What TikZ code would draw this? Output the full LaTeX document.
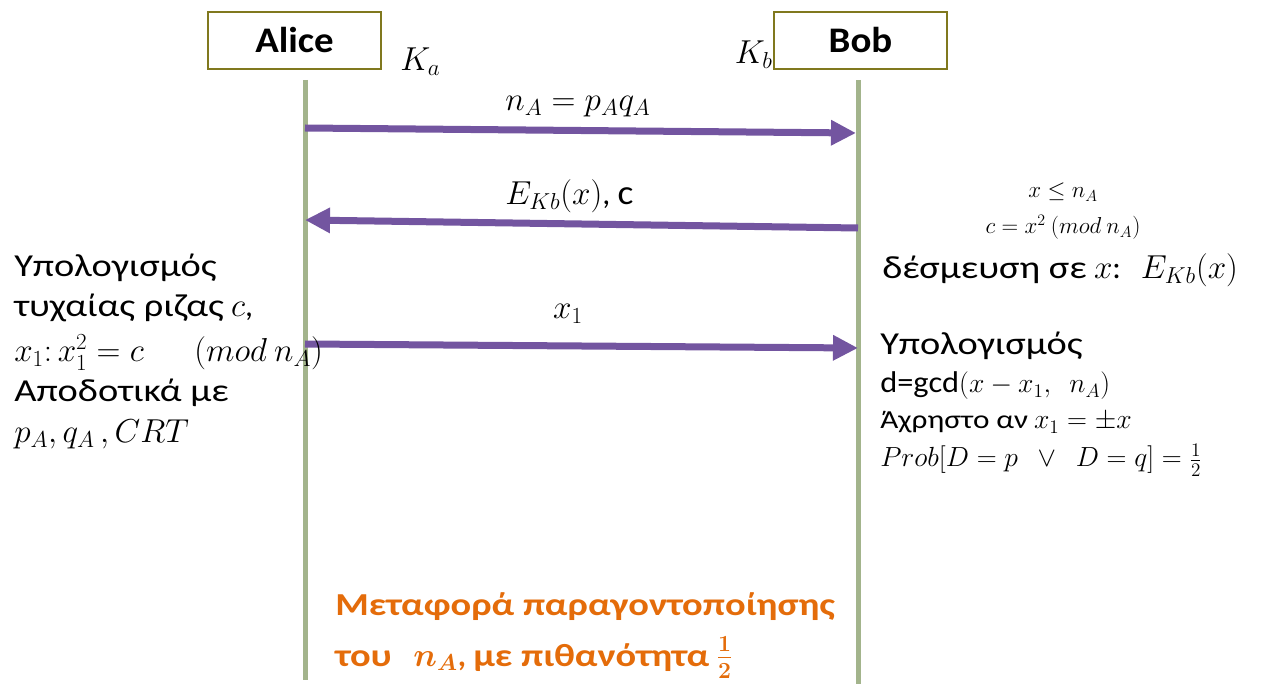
\documentclass[tikz,border=0pt]{standalone}
\usepackage{fontspec}
\usepackage{graphicx}
\setmainfont{Carlito}
\newcommand{\gs}[1]{\scalebox{1.2}[1]{#1}}
\newcommand{\ls}[1]{\scalebox{1.08}[1]{#1}}
\usetikzlibrary{arrows.meta}
\definecolor{boxline}{RGB}{128,120,30}
\definecolor{life}{RGB}{163,180,140}
\definecolor{msg}{RGB}{115,85,160}
\definecolor{note}{RGB}{228,108,10}
\tikzset{
  actor/.style={draw=boxline, line width=1.3pt, minimum width=129.75pt, minimum height=42.75pt, font=\fontsize{27}{30}\selectfont\bfseries, inner sep=0pt},
  lifeline/.style={draw=life, line width=3.75pt},
  message/.style={draw=msg, line width=5.25pt, -{Triangle[length=18.75pt,width=18pt]}},
  big/.style={font=\fontsize{24}{28}\selectfont, inner sep=0pt},
  mid/.style={font=\fontsize{19.5}{22}\selectfont, inner sep=0pt},
  small/.style={font=\fontsize{16.5}{20}\selectfont, inner sep=0pt},
  orange/.style={font=\fontsize{24}{28}\selectfont\bfseries\boldmath, text=note, inner sep=0pt},
}
\begin{document}
\begin{tikzpicture}[x=0.75pt,y=-0.75pt]
\useasboundingbox (0,0) rectangle (1265,684);
% actors
\node[actor] (alice) at (294.5,40.5) {\ls{Alice}};
\node[actor] (bob) at (860.5,40.5) {\ls{Bob}};
\node[big, anchor=base west] (ka) at (400,71) {$K_a$};
\node[big, anchor=base east] (kb) at (773,64) {$K_b$};
% lifelines
\coordinate (aTop) at (305,80);
\coordinate (aBot) at (305,680);
\coordinate (bTop) at (858,80);
\coordinate (bBot) at (858,684);
\draw[lifeline] (aTop) -- (aBot);
\draw[lifeline] (bTop) -- (bBot);
% message end points
\coordinate (m1s) at (305,128);
\coordinate (m1e) at (856,133);
\coordinate (m2s) at (858,228);
\coordinate (m2e) at (305,220);
\coordinate (m3s) at (305,344);
\coordinate (m3e) at (858,348);
\draw[message] (m1s) -- (m1e);
\draw[message] (m2s) -- (m2e);
\draw[message] (m3s) -- (m3e);
% message labels
\node[big, anchor=base] (l1) at (578,111) {$n_A = p_A q_A$};
\node[big, anchor=base west] (l2) at (505,205) {$E_{Kb}(x)$, {\fontsize{26}{28}\selectfont\ls{c}}};
\node[big, anchor=base] (l3) at (568,319) {$x_1$};
% Bob notes 1
\node[small, anchor=base] (b1) at (1063,198) {$x \le n_A$};
\node[small, anchor=base] (b2) at (1063,234) {$c = x^2\ (mod\ n_A)$};
\node[big, anchor=base west] (b3) at (882,279) {\gs{δέσμευση σε} $x$:\ \ \,$E_{Kb}(x)$};
% Bob notes 2
\node[big, anchor=base west] (b4) at (880,355) {\gs{Υπολογισμός}};
\node[mid, anchor=base west, font=\fontsize{22.5}{24}\selectfont] (b5) at (880,393) {\ls{d=gcd}$(x - x_1,\ \ n_A)$};
\node[mid, anchor=base west] (b6) at (880,429) {\gs{Άχρηστο αν} $x_1 = \pm x$};
\node[mid, anchor=base west, font=\fontsize{22.5}{24}\selectfont] (b7) at (880,467) {$Prob[D = p\ \ \vee\ \ D = q] = \frac{1}{2}$};
% Alice notes
\node[big, anchor=base west] (a1) at (14,277) {\gs{Υπολογισμός}};
\node[big, anchor=base west] (a2) at (14,317) {\gs{τυχαίας ριζας} $c$,};
\node[big, anchor=base west] (a3) at (14,362) {$x_1\colon \smash{x_1^2} = c\ \ \ \ \ \ \ (mod\ n_A)$};
\node[big, anchor=base west] (a4) at (14,402) {\gs{Αποδοτικά με}};
\node[big, anchor=base west] (a5) at (14,443) {$p_A, q_A\,, CRT$};
% conclusion
\node[orange, anchor=base west] (c1) at (335,615) {\gs{Μεταφορά παραγοντοποίησης}};
\node[orange, anchor=base west] (c2) at (335,666) {\gs{του}\ \ \ {\fontsize{27}{28}\selectfont$n_A$}, \gs{με πιθανότητα} $\frac{1}{2}$};
\end{tikzpicture}
\end{document}
